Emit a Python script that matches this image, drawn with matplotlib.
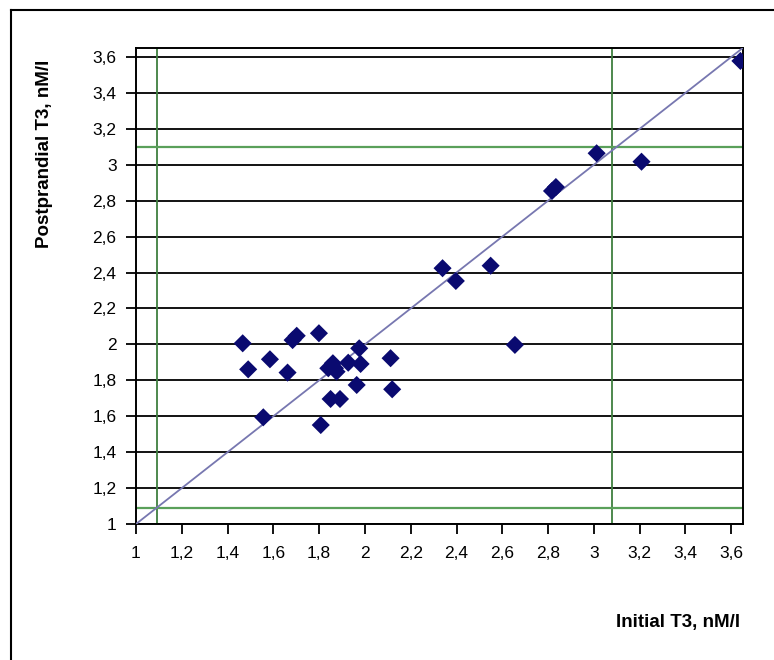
import matplotlib
matplotlib.use("Agg")
import matplotlib.pyplot as plt
from matplotlib.ticker import FixedLocator, FuncFormatter
from matplotlib.lines import Line2D

plt.rcParams['font.family'] = ['Liberation Sans', 'DejaVu Sans']

# Initial vs postprandial T3 (nM/l)
initial_t3 = [3.64, 3.208, 3.012, 2.817, 2.834, 2.339, 2.397, 2.549, 2.655,
              1.466, 1.490, 1.585, 1.662, 1.684, 1.702, 1.799, 1.556, 1.807,
              1.850, 1.891, 1.840, 1.860, 1.876, 1.869, 1.927, 1.975, 1.981,
              1.964, 2.112, 2.119]
postprandial_t3 = [3.578, 3.017, 3.064, 2.854, 2.876, 2.424, 2.353, 2.438, 1.997,
                   2.006, 1.861, 1.917, 1.843, 2.024, 2.048, 2.062, 1.594, 1.551,
                   1.696, 1.696, 1.867, 1.895, 1.848, 1.867, 1.898, 1.978, 1.891,
                   1.774, 1.923, 1.750]

# Reference limits (green lines) and identity line
ref_x = [1.09, 3.08]
ref_y = [1.09, 3.10]
identity = [1.0, 3.65]

ticks = [1.0, 1.2, 1.4, 1.6, 1.8, 2.0, 2.2, 2.4, 2.6, 2.8, 3.0, 3.2, 3.4, 3.6]
axis_min, axis_max = 1.0, 3.65

fig = plt.figure(figsize=(7.74, 6.6), dpi=100)
ax = fig.add_axes([136 / 774, 1 - 524 / 660, (742.7 - 136) / 774, (524 - 48) / 660])

ax.set_xlim(axis_min, axis_max)
ax.set_ylim(axis_min, axis_max)

for yv in ticks:
    ax.axhline(yv, color='black', lw=1.3, zorder=1)

for xv in ref_x:
    ax.axvline(xv, color='#3f7f3f', lw=1.3, zorder=2)
for yv in ref_y:
    ax.axhline(yv, color='#5aa05a', lw=1.6, zorder=2)

ax.plot(identity, identity, color='#7777b0', lw=1.3, zorder=3)

ax.scatter(initial_t3, postprandial_t3, marker='D', s=85, color='#0a0a70',
           edgecolors='none', zorder=4)

fmt = FuncFormatter(lambda v, p: ('%g' % round(v, 2)).replace('.', ','))
ax.xaxis.set_major_locator(FixedLocator(ticks))
ax.yaxis.set_major_locator(FixedLocator(ticks))
ax.xaxis.set_major_formatter(fmt)
ax.yaxis.set_major_formatter(fmt)
ax.tick_params(axis='both', direction='out', length=7, width=1.3,
               labelsize=12.5, colors='black')
ax.tick_params(axis='x', pad=9)
ax.tick_params(axis='y', pad=7)

for s in ax.spines.values():
    s.set_linewidth(1.4)
    s.set_color('black')

fig.text(45 / 774, 1 - 154 / 660, 'Postprandial T3, nM/l', rotation=90,
         ha='center', va='center', fontsize=13.5, fontweight='bold')
fig.text(740 / 774, 1 - 622 / 660, 'Initial T3, nM/l', ha='right',
         va='center', fontsize=13.5, fontweight='bold')

# Outer frame (left and top edges)
fig.add_artist(Line2D([11 / 774, 11 / 774], [0, 1 - 10 / 660],
                      transform=fig.transFigure, color='black', lw=1.5))
fig.add_artist(Line2D([11 / 774, 1], [1 - 10 / 660, 1 - 10 / 660],
                      transform=fig.transFigure, color='black', lw=1.5))

fig.savefig('out.png', dpi=100)
